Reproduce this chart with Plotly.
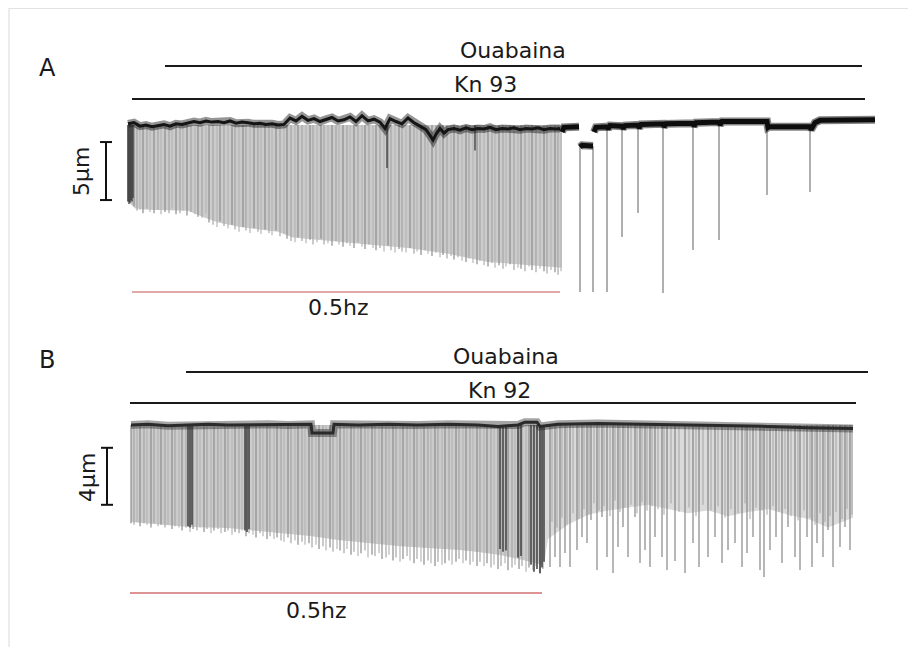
import plotly.graph_objects as go

# ---------------- Panel A (Kn 93) : time in s, shortening in µm (0 = resting) -------------
A_base_t = [0, 6, 12, 18, 24, 30, 36, 42, 48, 54,
            60, 66, 72, 78, 84, 90, 96, 102, 108, 114,
            120, 126, 132, 138, 144, 150, 156, 162, 168, 174,
            180, 186, 192, 198, 204, 210, 216, 222, 228, 234,
            240, 246, 252, 257, 262, 268, 274, 280, 286, 292,
            298, 302, 305, 308, 312, 316, 320, 326, 332, 338,
            344, 350, 356, 362, 368, 374, 380, 386, 392, 398,
            404, 410, 416, 422, 428, 432]
A_base_y = [0.1, 0.2, -0.1, 0.0, -0.15, -0.05, 0.05, -0.1, 0.1, 0.05,
            0.15, 0.3, 0.2, 0.35, 0.25, 0.3, 0.2, 0.35, 0.15, 0.25,
            0.2, 0.1, 0.15, 0.05, 0.1, 0.0, 0.05, 0.6, 0.35, 0.75,
            0.4, 0.55, 0.3, 0.5, 0.65, 0.35, 0.45, 0.7, 0.3, 0.8,
            0.35, 0.5, 0.25, -0.3, 0.55, 0.3, 0.1, 0.6, 0.2, -0.1,
            -0.4, -0.9, -1.3, -0.8, -0.3, -0.7, -0.4, -0.3, -0.45, -0.25,
            -0.4, -0.3, -0.35, -0.2, -0.4, -0.3, -0.35, -0.25, -0.4, -0.3,
            -0.35, -0.25, -0.4, -0.3, -0.35, -0.3]

A_fill_t = [0, 7, 20, 60, 77, 90, 112, 150, 165, 200, 240, 280, 320, 360, 400, 434]
A_fill_y = [-6.6, -7.2, -7.3, -7.4, -8.0, -8.4, -8.8, -9.2, -9.7, -10.0, -10.3, -10.6,
            -11.1, -11.8, -12.1, -12.3]

A_spk_t = [0, 2, 4, 6, 9, 12, 15, 19, 22, 26,
           30, 33, 37, 41, 44, 48, 52, 55, 59, 63,
           67, 70, 74, 78, 81, 85, 89, 92, 96, 100,
           104, 107, 111, 115, 118, 122, 126, 130, 133, 137,
           141, 144, 148, 152, 156, 159, 163, 167, 170, 174,
           178, 182, 185, 189, 193, 196, 200, 204, 208, 211,
           215, 219, 222, 226, 230, 234, 237, 241, 245, 248,
           252, 256, 260, 263, 267, 271, 274, 278, 282, 286,
           289, 293, 297, 300, 304, 308, 312, 315, 319, 323,
           326, 330, 334, 338, 341, 345, 349, 352, 356, 360,
           364, 367, 371, 375, 378, 382, 386, 390, 393, 397,
           401, 404, 408, 412, 416, 419, 423, 427, 430, 433]
A_spk_y = [-6.6, -6.7, -6.8, -7.0, -7.4, -7.3, -7.6, -7.2, -7.5, -7.6,
           -7.3, -7.7, -7.5, -7.6, -7.2, -7.7, -7.6, -7.4, -7.8, -7.5,
           -7.7, -7.9, -8.0, -7.6, -8.4, -8.6, -8.8, -8.3, -8.7, -8.9,
           -8.6, -9.0, -9.2, -8.8, -9.1, -9.3, -8.9, -9.2, -9.4, -9.0,
           -9.3, -9.5, -9.1, -9.6, -9.4, -9.8, -10.0, -10.1, -9.7, -10.0,
           -10.2, -9.9, -10.3, -10.1, -9.8, -10.3, -10.2, -10.4, -10.0, -10.3,
           -10.5, -10.2, -10.4, -10.6, -10.1, -10.5, -10.7, -10.3, -10.6, -10.8,
           -10.6, -10.9, -10.4, -10.8, -11.0, -10.7, -10.9, -11.0, -10.6, -11.1,
           -10.9, -11.2, -10.8, -11.1, -11.3, -11.0, -11.4, -11.2, -11.5, -11.3,
           -11.6, -11.4, -11.7, -11.8, -11.5, -11.9, -12.0, -11.7, -12.1, -12.2,
           -11.9, -12.3, -12.1, -12.4, -12.2, -12.0, -12.5, -12.3, -12.4, -12.6,
           -12.2, -12.5, -12.7, -12.4, -12.6, -12.8, -12.5, -12.7, -12.9, -12.6]

A_dark_t = [0, 1, 2, 3, 4, 5, 259, 347]
A_dark_y = [-6.6, -6.8, -6.7, -6.5, -6.6, -6.3, -3.7, -2.2]

A2_base_t = [434, 436, 451, None, 452, 454, 465, None,
             466, 468, 479, 480, 482, 494, 495, 497, 510, 511, 513, 535, 536, 538,
             565, 566, 568, 591, 592, 594, 639, 640, 641, 682, 683, 687, 692, 747]
A2_base_y = [-0.6, -0.2, -0.15, None, -1.9, -1.75, -1.8, None,
             -0.6, -0.2, -0.15, -0.35, -0.05, -0.1, -0.3, -0.05, 0.0, -0.25, 0.05, 0.1, -0.15, 0.1,
             0.15, -0.1, 0.2, 0.25, 0.0, 0.3, 0.3, -0.2, -0.15, -0.15, -0.4, 0.2, 0.4, 0.45]

A2_spk_t = [452, 465, 479, 494, 510, 535, 565, 591, 639, 682]
A2_spk_top = [-1.8, -1.8, -0.15, -0.1, 0.0, 0.1, 0.15, 0.25, 0.3, -0.15]
A2_spk_y = [-14.4, -14.4, -14.4, -9.66, -7.59, -14.48, -10.78, -9.91, -6.03, -5.78]

A_ouabaina = [37, 734]
A_kn = [4, 737]
A_stim = [4, 432]
A_scale_um = 5

# ---------------- Panel B (Kn 92) ----------------
B_base_t = [3, 20, 40, 62, 80, 100, 119, 140, 160, 183, 184, 205, 206, 230, 260, 290, 320,
            350, 370, 390, 397, 409, 412, 430, 470, 520, 560, 600, 640, 680, 725]
B_base_y = [0.0, 0.05, -0.05, 0.0, 0.05, 0.0, 0.0, 0.05, 0.0, 0.05, -0.56, -0.56, 0.05, 0.0,
            0.05, 0.0, 0.05, 0.0, -0.1, 0.0, 0.2, 0.2, -0.1, 0.05, 0.1, 0.05, 0.0, -0.05,
            -0.1, -0.2, -0.25]

B_fill_t = [3, 30, 62, 100, 122, 150, 182, 210, 242, 270, 300, 332, 350, 372, 395, 415]
B_fill_y = [-6.81, -6.95, -7.16, -7.23, -7.37, -7.58, -7.79, -8.07, -8.28, -8.49, -8.63,
            -8.77, -8.91, -9.12, -9.47, -9.82]

B_spk_t = [3, 6, 9, 12, 16, 19, 23, 26, 30, 33,
           37, 40, 44, 47, 51, 54, 58, 62, 65, 69,
           72, 76, 79, 83, 86, 90, 93, 97, 100, 104,
           107, 111, 114, 118, 121, 125, 128, 132, 135, 139,
           142, 146, 149, 153, 156, 160, 163, 167, 170, 174,
           177, 181, 184, 188, 191, 195, 198, 202, 205, 209,
           212, 216, 219, 223, 226, 230, 233, 237, 240, 244,
           247, 251, 254, 258, 261, 265, 268, 272, 275, 279,
           282, 286, 289, 293, 296, 300, 303, 307, 310, 314,
           317, 321, 324, 328, 331, 335, 338, 342, 345, 349,
           352, 356, 359, 363, 366, 370, 373, 377, 380, 384,
           387, 391, 394, 398, 401, 405, 408, 412, 415]
B_spk_y = [-6.9, -7.0, -6.8, -7.1, -6.9, -7.0, -7.2, -6.9, -7.1, -7.0,
           -7.2, -7.0, -7.3, -7.1, -7.2, -7.4, -7.2, -7.5, -7.3, -7.4,
           -7.2, -7.5, -7.3, -7.6, -7.4, -7.3, -7.6, -7.5, -7.4, -7.7,
           -7.5, -7.6, -7.4, -7.8, -7.6, -7.7, -7.9, -7.6, -7.8, -8.0,
           -7.8, -8.0, -7.9, -8.1, -8.2, -7.9, -8.3, -8.1, -8.4, -8.2,
           -8.4, -8.3, -8.6, -8.4, -8.7, -8.5, -8.8, -8.6, -8.9, -8.7,
           -8.8, -9.0, -8.7, -9.1, -8.9, -9.2, -9.0, -8.8, -9.3, -9.1,
           -9.2, -9.0, -9.4, -9.3, -9.1, -9.5, -9.3, -9.6, -9.4, -9.2,
           -9.5, -9.7, -9.4, -9.6, -9.8, -9.5, -9.7, -9.9, -9.6, -9.8,
           -9.7, -9.5, -9.8, -9.6, -9.4, -9.7, -9.5, -9.8, -9.6, -9.9,
           -9.6, -9.9, -9.7, -10.0, -9.8, -10.1, -9.9, -9.7, -10.2, -10.0,
           -9.8, -10.1, -9.9, -10.3, -10.0, -10.2, -9.9, -10.4, -10.1]

B_dark_t = [60, 62, 64, 117, 119, 121, 372, 375, 378, 390, 393, 403, 406, 409, 412, 414, 416]
B_dark_y = [-7.1, -7.2, -7.0, -7.4, -7.5, -7.3, -8.7, -8.9, -8.8, -9.3, -9.2, -9.8, -10.3,
            -10.1, -10.4, -10.0, -9.6]

B2_fill_t = [416, 420, 440, 460, 480, 500, 520, 540, 560, 580, 600, 620, 640, 660, 680, 700, 725]
B2_fill_y = [-9.8, -8.0, -7.0, -6.3, -6.0, -5.8, -5.6, -5.9, -6.2, -6.0, -6.4, -6.1, -5.9,
             -6.3, -6.6, -7.2, -6.5]

B2_spk_t = [422, 427, 432, 437, 442, 449, 454, 459, 463, 469,
            474, 479, 485, 490, 495, 500, 507, 512, 517, 522,
            527, 534, 539, 547, 557, 565, 571, 580, 587, 594,
            600, 607, 614, 619, 625, 632, 636, 642, 648, 654,
            660, 667, 672, 679, 684, 689, 695, 700, 705, 712,
            717, 722]
B2_spk_y = [-9.96, -9.26, -9.96, -8.98, -9.96, -8.77, -7.86, -8.28, -6.67, -10.18,
            -6.46, -9.26, -10.39, -8.56, -7.16, -9.26, -6.46, -9.68, -8.77, -9.96,
            -7.86, -9.26, -10.18, -9.54, -10.39, -8.28, -9.96, -9.26, -7.86, -9.68,
            -8.77, -8.28, -9.96, -8.98, -7.86, -10.18, -10.67, -8.77, -7.86, -9.68,
            -7.16, -9.26, -10.18, -7.86, -9.96, -8.28, -9.26, -7.37, -9.96, -8.56,
            -7.16, -8.77]

B2_light_t = [424, 429, 434, 439, 445, 451, 456, 461, 466, 471,
              476, 482, 487, 492, 497, 503, 509, 514, 519, 524,
              530, 536, 543, 551, 561, 568, 575, 583, 590, 597,
              603, 610, 617, 622, 628, 634, 639, 645, 651, 657,
              663, 670, 676, 682, 687, 692, 697, 702, 708, 714,
              719, 724]
B2_light_y = [-6.8, -7.2, -6.5, -7.0, -6.2, -6.6, -5.9, -6.3, -5.5, -6.0,
              -5.7, -6.4, -5.3, -6.1, -5.8, -5.6, -6.2, -5.4, -6.0, -5.7,
              -5.9, -6.3, -5.5, -6.1, -5.8, -6.4, -5.6, -6.0, -5.7, -6.5,
              -5.9, -6.2, -5.5, -6.6, -5.8, -6.0, -6.3, -5.7, -6.1, -5.9,
              -6.4, -6.7, -6.0, -6.5, -7.0, -6.2, -6.8, -6.4, -6.1, -6.6,
              -5.9, -6.3]

B_ouabaina = [58, 740]
B_kn = [2, 728]
B_stim = [2, 414]
B_scale_um = 4

# ---------------- layout geometry (page pixels) ----------------
FIG_W, FIG_H, OFF = 900, 639, 8
T0 = 128                       # page x of t = 0
A_BASE, A_PX = 125, 11.6       # page y of 0 µm, px per µm
B_BASE, B_PX = 425, 14.25
SPLIT = 327


def px(x):
    return (x - OFF) / FIG_W


def py(y):
    return 1 - (y - OFF) / FIG_H


def spikes(ts, bots, tops=None, sel=None):
    xs, ys = [], []
    for i, (t, b) in enumerate(zip(ts, bots)):
        if sel is not None and i % 3 != sel:
            continue
        top = 0.0 if tops is None else tops[i]
        xs += [t, t, None]
        ys += [top, b, None]
    return xs, ys


fig = go.Figure()


def add_line(x, y, color, width, ax, fill=None, fillcolor=None):
    xa, ya = ("x", "y") if ax == "A" else ("x2", "y2")
    fig.add_trace(go.Scatter(x=x, y=y, mode="lines", xaxis=xa, yaxis=ya,
                             line=dict(color=color, width=width),
                             fill=fill, fillcolor=fillcolor,
                             hoverinfo="skip", showlegend=False,
                             connectgaps=False))


GREYS = ["#8c8c8c", "#a6a6a6", "#b6b6b6"]

# Panel A
add_line(A_fill_t, A_fill_y, "rgba(0,0,0,0)", 0, "A", fill="tozeroy", fillcolor="#cbcbcb")
for k in range(3):
    sx, sy = spikes(A_spk_t, A_spk_y, sel=k)
    add_line(sx, sy, GREYS[k], 1.2, "A")
sx, sy = spikes(A_dark_t, A_dark_y)
add_line(sx, sy, "#3a3a3a", 1.3, "A")
sx, sy = spikes(A2_spk_t, A2_spk_y, A2_spk_top)
add_line(sx, sy, "#7a7a7a", 1.2, "A")
add_line(A_base_t, A_base_y, "rgba(20,20,20,0.45)", 8, "A")
add_line(A_base_t, A_base_y, "#151515", 3, "A")
add_line(A2_base_t, A2_base_y, "rgba(10,10,10,0.5)", 8, "A")
add_line(A2_base_t, A2_base_y, "#0d0d0d", 5, "A")

# Panel B
add_line(B_fill_t, B_fill_y, "rgba(0,0,0,0)", 0, "B", fill="tozeroy", fillcolor="#cbcbcb")
add_line(B2_fill_t, B2_fill_y, "rgba(0,0,0,0)", 0, "B", fill="tozeroy", fillcolor="#dadada")
sx, sy = spikes(B2_light_t, B2_light_y)
add_line(sx, sy, "#a4a4a4", 1, "B")
for k in range(3):
    sx, sy = spikes(B_spk_t, B_spk_y, sel=k)
    add_line(sx, sy, GREYS[k], 1.2, "B")
sx, sy = spikes(B2_spk_t, B2_spk_y)
add_line(sx, sy, "#7c7c7c", 1.1, "B")
sx, sy = spikes(B_dark_t, B_dark_y)
add_line(sx, sy, "#474747", 1.6, "B")
add_line(B_base_t, B_base_y, "rgba(30,30,30,0.4)", 8, "B")
add_line(B_base_t, B_base_y, "#2a2a2a", 3, "B")

# scale bars (drawn in data units)
for ax, top, um in (("A", -1.47, A_scale_um), ("B", -1.6, B_scale_um)):
    xb = -22 if ax == "A" else -21
    add_line([xb, xb], [top, top - um], "#111111", 2, ax)
    add_line([xb - 6, xb + 6, None, xb - 6, xb + 6],
             [top, top, None, top - um, top - um], "#111111", 2, ax)

# treatment / stimulation bars
shapes = []
for xr, yr, rng, ypage, col, w in (
        ("x", "paper", A_ouabaina, 66, "#1a1a1a", 2),
        ("x", "paper", A_kn, 99, "#1a1a1a", 2),
        ("x", "paper", A_stim, 292, "#d98a8a", 1.5),
        ("x2", "paper", B_ouabaina, 372, "#1a1a1a", 2),
        ("x2", "paper", B_kn, 403, "#1a1a1a", 2),
        ("x2", "paper", B_stim, 593, "#d07070", 1.5)):
    shapes.append(dict(type="line", xref=xr, yref=yr, x0=rng[0], x1=rng[1],
                       y0=py(ypage), y1=py(ypage), line=dict(color=col, width=w)))
# faint frame of the original figure
shapes.append(dict(type="line", xref="paper", yref="paper", x0=px(9), x1=px(9),
                   y0=0, y1=1, line=dict(color="#d9d9d9", width=1)))
shapes.append(dict(type="line", xref="paper", yref="paper", x0=px(9), x1=1,
                   y0=py(8.5), y1=py(8.5), line=dict(color="#e2e2e2", width=1)))

FONT = dict(family="DejaVu Sans", size=22, color="#1a1a1a")
texts = [("A", 47, 68, 0, 24), ("Ouabaina", 513, 50, 0, 22), ("Kn 93", 485, 85, 0, 22),
         ("5µm", 82, 172, -90, 22), ("0.5hz", 338, 307, 0, 22),
         ("B", 47, 360, 0, 24), ("Ouabaina", 506, 356, 0, 22), ("Kn 92", 500, 390, 0, 22),
         ("4µm", 87, 478, -90, 22), ("0.5hz", 316, 610, 0, 22)]
annotations = [dict(text=t, x=px(x), y=py(y), xref="paper", yref="paper", showarrow=False,
                    textangle=a, font=dict(FONT, size=s), xanchor="center", yanchor="middle")
               for t, x, y, a, s in texts]

xr = [OFF - T0, OFF + FIG_W - T0]
dom_split = 1 - (SPLIT - OFF) / FIG_H
axis_off = dict(visible=False, showgrid=False, zeroline=False, fixedrange=True)
fig.update_layout(
    width=FIG_W, height=FIG_H, autosize=False,
    margin=dict(l=0, r=0, t=0, b=0, pad=0),
    paper_bgcolor="white", plot_bgcolor="white", showlegend=False,
    xaxis=dict(axis_off, range=xr, domain=[0, 1], anchor="y"),
    yaxis=dict(axis_off, domain=[dom_split, 1], anchor="x",
               range=[(A_BASE - SPLIT) / A_PX, (A_BASE - OFF) / A_PX]),
    xaxis2=dict(axis_off, range=xr, domain=[0, 1], anchor="y2"),
    yaxis2=dict(axis_off, domain=[0, dom_split], anchor="x2",
                range=[(B_BASE - (OFF + FIG_H)) / B_PX, (B_BASE - SPLIT) / B_PX]),
    shapes=shapes, annotations=annotations,
)

fig.write_html("out.html")
